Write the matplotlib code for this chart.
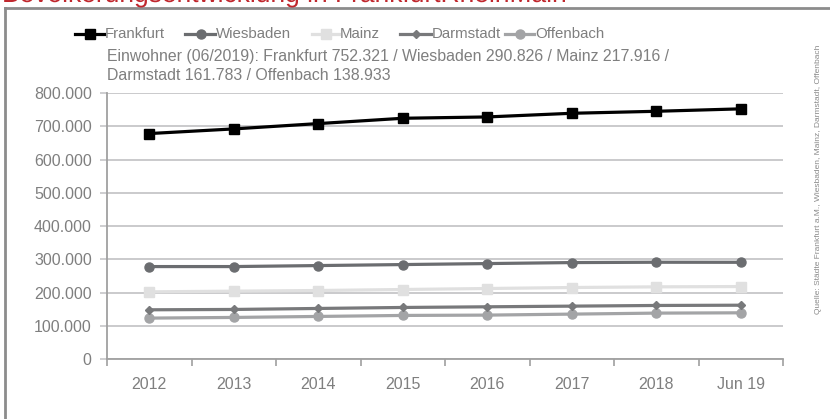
import matplotlib.pyplot as plt
import matplotlib.patheffects as pe
from matplotlib.lines import Line2D
from matplotlib.ticker import FuncFormatter

plt.rcParams['font.family'] = ['Liberation Sans', 'DejaVu Sans']

# Daten (Einwohner)
jahre = ['2012', '2013', '2014', '2015', '2016', '2017', '2018', 'Jun 19']
frankfurt = [678000, 692000, 708000, 724000, 728000, 739000, 745000, 752321]
wiesbaden = [278000, 278000, 281000, 284000, 287000, 290000, 291000, 290826]
mainz = [202000, 204000, 206000, 209000, 212000, 215000, 217000, 217916]
darmstadt = [148000, 149000, 152000, 155000, 157000, 159000, 161000, 161783]
offenbach = [123000, 125000, 128000, 131000, 132000, 135000, 138000, 138933]

W, H = 830, 419
fig = plt.figure(figsize=(W / 100, H / 100), dpi=100)
ax = fig.add_axes([107 / W, (H - 359) / H, 676 / W, 266 / H])

grau = '#7f7f7f'
stile = [
    ('Frankfurt', frankfurt, 'black', 's', 6.5, 5),
    ('Wiesbaden', wiesbaden, '#6b6d70', 'o', 6.5, 4),
    ('Mainz', mainz, '#e0e0e0', 's', 6.5, 3),
    ('Darmstadt', darmstadt, '#78797b', 'D', 4.5, 4),
    ('Offenbach', offenbach, '#a3a4a6', 'o', 6.5, 3),
]
x = range(len(jahre))
for name, werte, farbe, m, ms, z in stile:
    ax.plot(x, werte, color=farbe, lw=2.3, marker=m, ms=ms, zorder=z)

ax.set_xlim(-0.5, 7.5)
ax.set_ylim(0, 800000)
ax.set_yticks(range(0, 800001, 100000))
ax.yaxis.set_major_formatter(FuncFormatter(lambda v, p: f'{int(v):,}'.replace(',', '.')))
ax.grid(axis='y', color='#c6c6c8', lw=1.3)
ax.set_axisbelow(True)

ax.set_xticks(list(x))
ax.set_xticklabels(jahre)
ax.set_xticks([i - 0.5 for i in range(9)], minor=True)
ax.tick_params(axis='x', which='major', length=0, pad=13, labelsize=11.5, labelcolor=grau)
ax.tick_params(axis='x', which='minor', length=5, color='#a0a0a0', width=1.2)
ax.tick_params(axis='y', length=5, color='#c6c6c8', width=1.2, labelsize=11.5, labelcolor=grau, pad=6)

for s in ['top', 'right']:
    ax.spines[s].set_visible(False)
for s in ['left', 'bottom']:
    ax.spines[s].set_color('#a0a0a0')
    ax.spines[s].set_linewidth(1.3)

# Legende von Hand
leg_y = 1 - 34 / H
leg_start = [75, 185, 312, 400, 505]
leg_text = [105, 216, 340, 432, 535]
for (name, werte, farbe, m, ms, z), x0, xt in zip(stile, leg_start, leg_text):
    fig.add_artist(Line2D([x0 / W, (xt - 1) / W], [leg_y, leg_y], color=farbe, lw=2.3))
    fig.add_artist(Line2D([(x0 + xt) / 2 / W], [leg_y], color=farbe, marker=m, ms=ms, lw=0))
    fig.text(xt / W, leg_y, name, ha='left', va='center', fontsize=10.8, color=grau)

fig.text(107 / W, (H - 49) / H,
         'Einwohner (06/2019): Frankfurt 752.321 / Wiesbaden 290.826 / Mainz 217.916 /\n'
         'Darmstadt 161.783 / Offenbach 138.933',
         ha='left', va='top', fontsize=11.4, color=grau, linespacing=1.3)

fig.text(818 / W, 240 / H,
         'Quelle: Städte Frankfurt a.M., Wiesbaden, Mainz, Darmstadt, Offenbach',
         rotation=90, ha='center', va='center', fontsize=6, color='#8a8a8a')

# abgeschnittene Überschrift (oben vom Bildrand beschnitten)
fig.text(2 / W, 1 - 2 / H, 'Bevölkerungsentwicklung in FrankfurtRheinMain',
         ha='left', va='baseline', fontsize=19, color='#c0272d',
         path_effects=[pe.Normal()])

# Rahmen
fig.add_artist(Line2D([5 / W, 5 / W], [0, (H - 8) / H], color='#8c8c8c', lw=2))
fig.add_artist(Line2D([5 / W, 1], [(H - 8) / H, (H - 8) / H], color='#8c8c8c', lw=2))

fig.savefig('out.png', dpi=100)
